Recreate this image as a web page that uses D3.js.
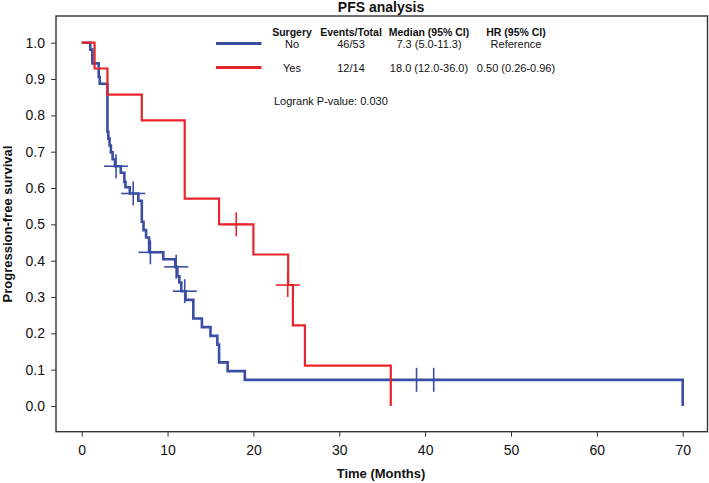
<!DOCTYPE html>
<html>
<head>
<meta charset="utf-8">
<script src="https://cdn.jsdelivr.net/npm/d3@7"></script>
<style>
  html, body { margin: 0; padding: 0; background: #fff; }
  svg { display: block; font-family: "Liberation Sans", Arial, sans-serif; }
</style>
</head>
<body>
<svg id="chart" width="709" height="483"></svg>
<script>
// ---------- data ----------
const xTicks = [0, 10, 20, 30, 40, 50, 60, 70];
const yTicks = [0, 0.1, 0.2, 0.3, 0.4, 0.5, 0.6, 0.7, 0.8, 0.9, 1.0];

// Surgery = No (blue) : step points (time, survival after the step)
const noTimes = [0, 1.0, 1.24, 1.98, 2.1, 3.0, 3.1, 3.25, 3.4, 3.6, 3.88, 4.55, 4.97, 5.1, 5.6, 6.6, 7.0, 7.2, 7.5, 7.85, 9.5, 10.9, 11.14, 11.37, 11.6, 12.1, 13.0, 14.0, 15.0, 15.8, 16.0, 17.0, 19.0, 70.0];
const noSurv  = [1, 0.981, 0.943, 0.906, 0.887, 0.755, 0.736, 0.717, 0.698, 0.679, 0.660, 0.642, 0.617, 0.602, 0.585, 0.565, 0.507, 0.484, 0.464, 0.423, 0.404, 0.383, 0.357, 0.340, 0.316, 0.292, 0.241, 0.217, 0.193, 0.169, 0.120, 0.096, 0.072, 0];
const noCensorTimes = [4.0, 6.0, 8.0, 11.0, 12.0, 39.0, 41.0];
const noCensorSurv  = [0.660, 0.585, 0.423, 0.383, 0.316, 0.072, 0.072];

// Surgery = Yes (red)
const yesTimes = [0, 1.5, 3.0, 7.0, 12.0, 16.0, 20.0, 24.05, 24.6, 26.0, 36.0];
const yesSurv  = [1, 0.929, 0.857, 0.786, 0.571, 0.5, 0.417, 0.333, 0.222, 0.111, 0];
const yesCensorTimes = [18.0, 24.0];
const yesCensorSurv  = [0.5, 0.333];

// legend table
const legendHeaders = ["Surgery", "Events/Total", "Median (95% CI)", "HR (95% CI)"];
const legendRowNo   = ["No", "46/53", "7.3 (5.0-11.3)", "Reference"];
const legendRowYes  = ["Yes", "12/14", "18.0 (12.0-36.0)", "0.50 (0.26-0.96)"];
const logrankText = "Logrank P-value: 0.030";

const blue = "#3a4fa3";
const red = "#e8242c";

// ---------- layout ----------
const svg = d3.select("#chart");
const frame = { left: 56, top: 16, right: 707.5, bottom: 431.7 };
const x = d3.scaleLinear().domain([0, 70]).range([81.7, 682.7]);
const y = d3.scaleLinear().domain([0, 1]).range([406, 42.7]);

// title
svg.append("text").attr("x", 381).attr("y", 12)
  .attr("text-anchor", "middle").attr("font-size", 14).attr("font-weight", "bold")
  .attr("fill", "#111").text("PFS analysis");

// axes
const yAxis = d3.axisLeft(y).tickValues(yTicks).tickFormat(d3.format(".1f"))
  .tickSize(5).tickSizeOuter(0).tickPadding(6);
const gy = svg.append("g").attr("transform", `translate(${frame.left},0)`).call(yAxis);
gy.select(".domain").remove();
gy.selectAll("text").attr("font-size", 14).attr("fill", "#111").attr("font-family", "Liberation Sans, Arial, sans-serif");
gy.selectAll("line").attr("stroke", "#333").attr("stroke-width", 1);

const xAxis = d3.axisBottom(x).tickValues(xTicks).tickFormat(d3.format("d"))
  .tickSize(5).tickSizeOuter(0).tickPadding(8.4);
const gx = svg.append("g").attr("transform", `translate(0,${frame.bottom})`).call(xAxis);
gx.select(".domain").remove();
gx.selectAll("text").attr("font-size", 14).attr("fill", "#111").attr("font-family", "Liberation Sans, Arial, sans-serif");
gx.selectAll("line").attr("stroke", "#333").attr("stroke-width", 1);

// frame
svg.append("rect")
  .attr("x", frame.left).attr("y", frame.top)
  .attr("width", frame.right - frame.left).attr("height", frame.bottom - frame.top)
  .attr("fill", "none").attr("stroke", "#333").attr("stroke-width", 1.4);

// axis titles
svg.append("text").attr("x", 381).attr("y", 478)
  .attr("text-anchor", "middle").attr("font-size", 13).attr("font-weight", "bold")
  .attr("fill", "#111").text("Time (Months)");
svg.append("text").attr("transform", `translate(12,224) rotate(-90)`)
  .attr("text-anchor", "middle").attr("font-size", 13).attr("font-weight", "bold")
  .attr("fill", "#111").text("Progression-free survival");

// curves
const stepLine = d3.line().x(d => x(d[0])).y(d => y(d[1])).curve(d3.curveStepAfter);

function drawGroup(times, surv, cTimes, cSurv, color, width) {
  const pts = times.map((t, i) => [t, surv[i]]);
  svg.append("path").attr("d", stepLine(pts))
    .attr("fill", "none").attr("stroke", color).attr("stroke-width", width)
    .attr("stroke-linejoin", "miter").attr("stroke-linecap", "butt");
  const cg = svg.append("g").attr("stroke", color).attr("stroke-width", 1.6);
  cTimes.forEach((t, i) => {
    const cx = x(t), cy = y(cSurv[i]);
    cg.append("line").attr("x1", cx - 12).attr("x2", cx + 12).attr("y1", cy).attr("y2", cy);
    cg.append("line").attr("x1", cx).attr("x2", cx).attr("y1", cy - 12).attr("y2", cy + 12);
  });
}
drawGroup(noTimes, noSurv, noCensorTimes, noCensorSurv, blue, 2.6);
drawGroup(yesTimes, yesSurv, yesCensorTimes, yesCensorSurv, red, 2.2);

// legend
const colX = [292, 351, 429, 516];
const lg = svg.append("g").attr("fill", "#111");
legendHeaders.forEach((h, i) => {
  lg.append("text").attr("x", colX[i]).attr("y", 35.5).attr("text-anchor", "middle")
    .attr("font-size", 10.5).attr("font-weight", "bold").text(h);
});
legendRowNo.forEach((h, i) => {
  lg.append("text").attr("x", colX[i]).attr("y", 48).attr("text-anchor", "middle")
    .attr("font-size", 11).text(h);
});
legendRowYes.forEach((h, i) => {
  lg.append("text").attr("x", colX[i]).attr("y", 72).attr("text-anchor", "middle")
    .attr("font-size", 11).text(h);
});
svg.append("line").attr("x1", 216).attr("x2", 261.5).attr("y1", 43.5).attr("y2", 43.5)
  .attr("stroke", blue).attr("stroke-width", 3);
svg.append("line").attr("x1", 216).attr("x2", 261.5).attr("y1", 67.5).attr("y2", 67.5)
  .attr("stroke", red).attr("stroke-width", 3);
lg.append("text").attr("x", 274).attr("y", 105).attr("font-size", 11).text(logrankText);
</script>
</body>
</html>
